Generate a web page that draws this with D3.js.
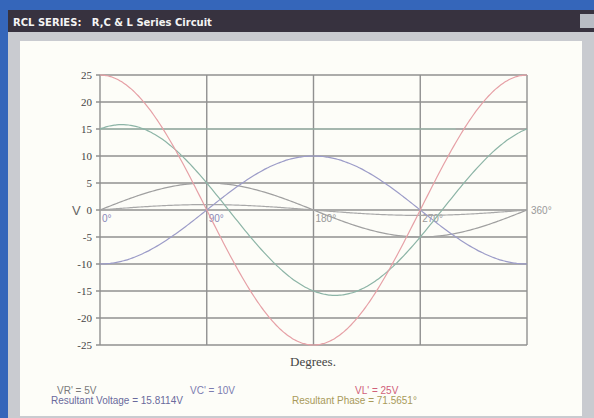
<!DOCTYPE html>
<html><head><meta charset="utf-8">
<script src="https://cdn.jsdelivr.net/npm/d3@7"></script>
<style>html,body{margin:0;padding:0;background:#3d6cc0;overflow:hidden}</style>
</head><body>
<svg id="c" width="594" height="418"></svg>
<script>
// Data
const degrees = d3.range(0, 361, 2);
const amplitudes = {VR: 5, VC: 10, VL: 25, I: 1};
const resultantVoltage = 15.8114;
const resultantPhase = 71.5651;
const yTicks = [25, 20, 15, 10, 5, 0, -5, -10, -15, -20, -25];
const xTicks = [0, 90, 180, 270, 360];
const xTickLabels = ["0°", "90°", "180°", "270°", "360°"];
const labelsTop = ["VR' = 5V", "VC' = 10V", "VL' = 25V"];
const labelsBottom = ["Resultant Voltage = 15.8114V", "Resultant Phase = 71.5651°"];

const rad = d => d * Math.PI / 180;
const series = [
  {name: "I", color: "#a8a8a8", f: d => amplitudes.I * Math.sin(rad(d))},
  {name: "VR", color: "#a0a0a0", f: d => amplitudes.VR * Math.sin(rad(d))},
  {name: "VC", color: "#9c9cc8", f: d => -amplitudes.VC * Math.cos(rad(d))},
  {name: "R", color: "#8cb4a6", f: d => resultantVoltage * Math.sin(rad(d + resultantPhase))},
  {name: "VL", color: "#e6a0a6", f: d => amplitudes.VL * Math.cos(rad(d))}
];

const svg = d3.select("#c");
// desktop / window
svg.append("rect").attr("x",0).attr("y",0).attr("width",594).attr("height",418).attr("fill","#3566ba");
svg.append("rect").attr("x",8).attr("y",10).attr("width",586).attr("height",408).attr("fill","#c9cbd0");
svg.append("rect").attr("x",8).attr("y",10).attr("width",586).attr("height",22).attr("fill","#37323f");
svg.append("rect").attr("x",580).attr("y",14).attr("width",14).attr("height",14).attr("fill","#b8bcc4");
svg.append("text").attr("x",13).attr("y",26).attr("fill","#f4f4f4").attr("xml:space","preserve")
  .style("white-space","pre")
  .style("font-family","DejaVu Sans, Arial").style("font-size","10px").style("font-weight","bold")
  .text("RCL SERIES:   R,C & L Series Circuit");
svg.append("rect").attr("x",20).attr("y",41).attr("width",562).attr("height",375).attr("fill","#fdfdf8");

const x = d3.scaleLinear().domain([0, 360]).range([100, 527]);
const y = d3.scaleLinear().domain([-25, 25]).range([345, 75]);

// grid
const g = svg.append("g");
g.selectAll("line.h").data(yTicks).join("line")
  .attr("x1", x(0) - 4).attr("x2", x(360)).attr("y1", d => y(d)).attr("y2", d => y(d))
  .attr("stroke", "#909090").attr("stroke-width", 1.4);
g.selectAll("line.v").data(xTicks).join("line")
  .attr("x1", d => x(d)).attr("x2", d => x(d)).attr("y1", y(25)).attr("y2", y(-25))
  .attr("stroke", "#909090").attr("stroke-width", 1.4);
// faint green highlight at 15
g.append("line").attr("x1", x(0)).attr("x2", x(300)).attr("y1", y(15)).attr("y2", y(15))
  .attr("stroke", "#9cc8b4").attr("stroke-width", 1.2).attr("opacity", 0.8);

// y labels
svg.selectAll("text.yl").data(yTicks).join("text")
  .attr("x", 92).attr("y", d => y(d) + 4).attr("text-anchor", "end")
  .attr("fill", "#444").style("font-family", "Liberation Serif, Times New Roman").style("font-size", "11px")
  .text(d => d);
svg.append("text").attr("x", 72).attr("y", 215).attr("fill", "#666")
  .style("font-family", "Liberation Sans, Arial").style("font-size", "13px").text("V");

// x labels
svg.selectAll("text.xl").data(xTicks).join("text")
  .attr("x", d => d === 360 ? x(d) + 4 : x(d) + 2).attr("y", d => d === 360 ? y(0) + 4 : y(0) + 12)
  .attr("fill", d => d === 0 || d === 90 ? "#8a8ab8" : "#999")
  .style("font-family", "Liberation Sans, Arial").style("font-size", "10px")
  .text((d, i) => xTickLabels[i]);

svg.append("text").attr("x", 313).attr("y", 366).attr("text-anchor", "middle").attr("fill", "#444")
  .style("font-family", "Liberation Serif, Times New Roman").style("font-size", "13px").text("Degrees.");

// curves
const line = d3.line().x(d => x(d[0])).y(d => y(d[1])).curve(d3.curveMonotoneX);
series.forEach(s => {
  svg.append("path").datum(degrees.map(d => [d, s.f(d)]))
    .attr("d", line).attr("fill", "none").attr("stroke", s.color).attr("stroke-width", 1.2);
});

// bottom text
const ft = {fam: "Liberation Sans, Arial", size: "10px"};
const tops = [{x: 57, c: "#7a7a7a"}, {x: 190, c: "#7c7cb0"}, {x: 355, c: "#d0607a"}];
labelsTop.forEach((t, i) => svg.append("text").attr("x", tops[i].x).attr("y", 394).attr("fill", tops[i].c)
  .style("font-family", ft.fam).style("font-size", ft.size).text(t));
const bots = [{x: 51, c: "#6a6a9c"}, {x: 292, c: "#a89a5a"}];
labelsBottom.forEach((t, i) => svg.append("text").attr("x", bots[i].x).attr("y", 404).attr("fill", bots[i].c)
  .style("font-family", ft.fam).style("font-size", ft.size).text(t));
</script>
</body></html>
